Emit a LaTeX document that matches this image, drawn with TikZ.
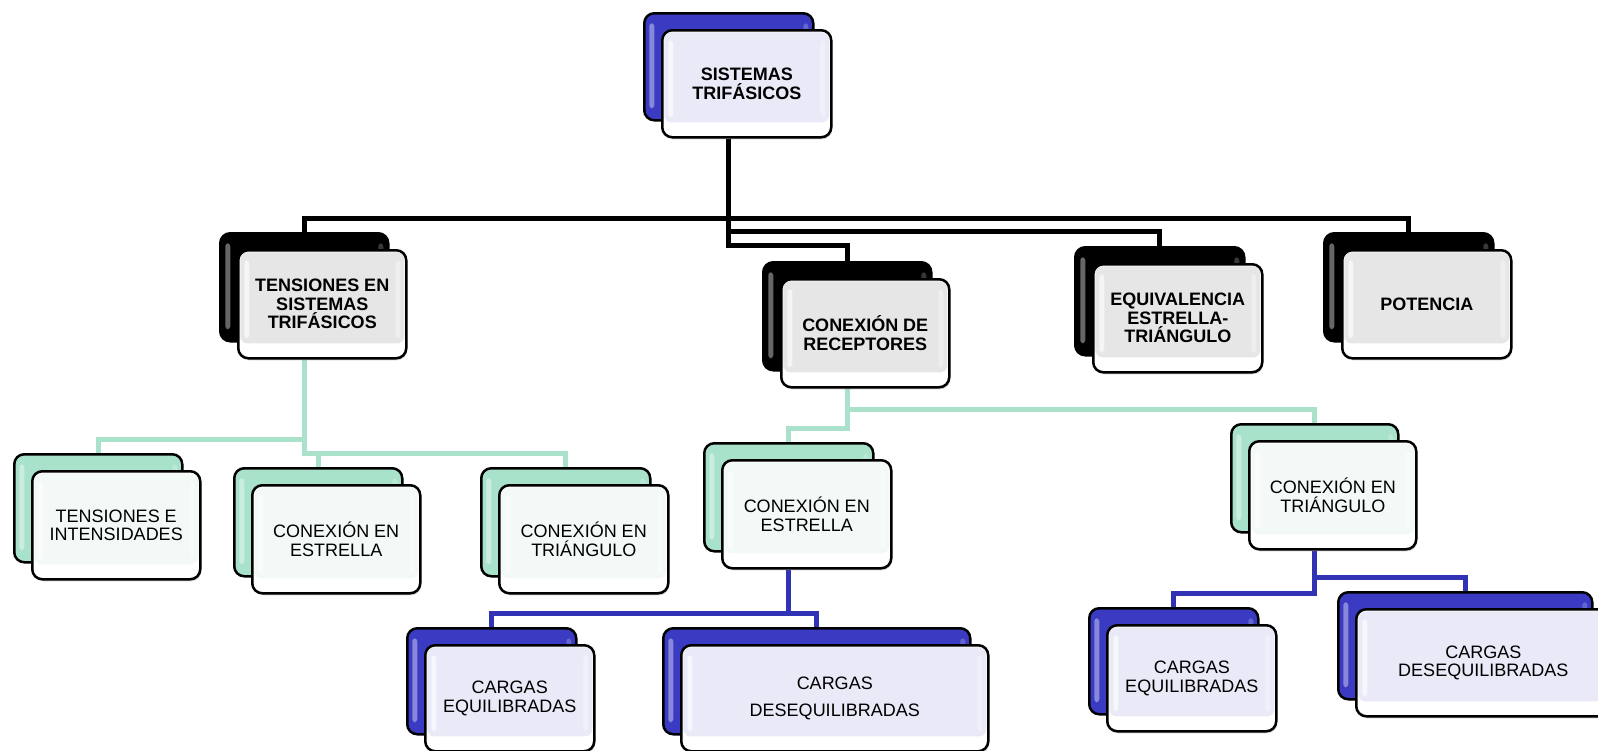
\documentclass[tikz,border=0pt]{standalone}
\usepackage{fontspec}
\setmainfont{Liberation Sans}
\usetikzlibrary{calc,shadows}
\pgfdeclarelayer{bottom}
\pgfdeclarelayer{background}
\pgfsetlayers{bottom,background,main}

\definecolor{cblue}{HTML}{3232B4}
\definecolor{bluefill}{HTML}{3A3AC2}
\definecolor{cgreen}{HTML}{A9E1CA}
\definecolor{greenfill}{HTML}{A9E2CB}
\definecolor{frontblue}{HTML}{E9E9F7}
\definecolor{frontgrey}{HTML}{E6E6E6}
\definecolor{frontgreen}{HTML}{F3F9F7}

\tikzset{
  boxbase/.style={draw=black, line width=2.5pt, rounded corners=10pt, inner sep=0pt, anchor=north west},
  backbox/.style={boxbase, fill=#1,
    path picture={
      \fill[white, opacity=0.4, rounded corners=3pt]
        ([shift={(5pt,-10pt)}]path picture bounding box.north west) rectangle
        ([shift={(10pt,12pt)}]path picture bounding box.south west);
      \fill[white, opacity=0.22, rounded corners=3pt]
        ([shift={(-10pt,-10pt)}]path picture bounding box.north east) rectangle
        ([shift={(-5pt,12pt)}]path picture bounding box.south east);
    }},
  frontbox/.style={boxbase, fill=white,
    drop shadow={shadow xshift=1pt, shadow yshift=-2pt, opacity=0.35},
    path picture={
      \fill[#1, rounded corners=7pt]
        ([shift={(2pt,-2pt)}]path picture bounding box.north west) rectangle
        ([shift={(-2pt,15pt)}]path picture bounding box.south east);
      \fill[white, opacity=0.6, rounded corners=3pt]
        ([shift={(6pt,-10pt)}]path picture bounding box.north west) rectangle
        ([shift={(11pt,20pt)}]path picture bounding box.south west);
      \fill[white, opacity=0.35, rounded corners=3pt]
        ([shift={(-11pt,-10pt)}]path picture bounding box.north east) rectangle
        ([shift={(-6pt,20pt)}]path picture bounding box.south east);
    }},
  boldtxt/.style={font=\fontsize{18pt}{18.5pt}\selectfont\bfseries, align=center},
  plaintxt/.style={font=\fontsize{18pt}{18.5pt}\selectfont, align=center},
  lvzero/.style={frontbox=frontblue, boldtxt},
  lvone/.style={frontbox=frontgrey, boldtxt},
  lvtwo/.style={frontbox=frontgreen, plaintxt},
  lvthree/.style={frontbox=frontblue, plaintxt},
  bkblue/.style={backbox=bluefill},
  bkblack/.style={backbox=black},
  bkgreen/.style={backbox=greenfill},
  conblack/.style={draw=black, line width=5pt},
  congreen/.style={draw=cgreen, line width=5pt},
  conblue/.style={draw=cblue, line width=5pt}
}

\newcommand{\twobox}[8]{%
  \node[#6, minimum width=#4pt, minimum height=#5pt] (#1-b) at (#2,#3) {};
  \node[#7, minimum width=#4pt, minimum height=#5pt, xshift=18pt, yshift=-17pt] (#1) at (#2,#3) {#8};
}
\newcommand{\linkto}[4]{%
  \draw[#1] (#2-b.center |- #2.south) |- ($(#3-b.north)+(0,-#4)$) -- (#3-b.north);
}

\begin{document}
\begin{tikzpicture}[x=1pt,y=-1pt]
\useasboundingbox (0,0) rectangle (1598,750);
\begin{pgfonlayer}{bottom}
  \fill[white] (0,0) rectangle (1598,750);
\end{pgfonlayer}

% level 0
\twobox{top}{643}{12}{169}{107}{bkblue}{lvzero}{SISTEMAS\\TRIFÁSICOS}
% level 1
\twobox{ten}{219}{232}{168}{108}{bkblack}{lvone}{TENSIONES EN\\SISTEMAS\\TRIFÁSICOS}
\twobox{con}{762}{261}{168}{108}{bkblack}{lvone}{CONEXIÓN DE\\RECEPTORES}
\twobox{equ}{1074}{246}{169}{108}{bkblack}{lvone}{EQUIVALENCIA\\ESTRELLA-\\TRIÁNGULO}
\twobox{pot}{1323}{232}{169}{108}{bkblack}{lvone}{POTENCIA}
% level 2
\twobox{tei}{13}{453}{168}{108}{bkgreen}{lvtwo}{TENSIONES E\\INTENSIDADES}
\twobox{ceA}{233}{467}{168}{108}{bkgreen}{lvtwo}{CONEXIÓN EN\\ESTRELLA}
\twobox{ctA}{480}{467}{169}{108}{bkgreen}{lvtwo}{CONEXIÓN EN\\TRIÁNGULO}
\twobox{ceB}{703}{442}{169}{108}{bkgreen}{lvtwo}{CONEXIÓN EN\\ESTRELLA}
\twobox{ctB}{1230}{423}{167}{108}{bkgreen}{lvtwo}{CONEXIÓN EN\\TRIÁNGULO}
% level 3
\twobox{eqA}{406}{627}{169}{106}{bkblue}{lvthree}{CARGAS\\EQUILIBRADAS}
\twobox{deA}{662}{627}{307}{106}{bkblue}{lvthree}{CARGAS\\[8.5pt]DESEQUILIBRADAS}
\twobox{eqB}{1088}{607}{169}{106}{bkblue}{lvthree}{CARGAS\\EQUILIBRADAS}
\twobox{deB}{1337}{591}{254}{107}{bkblue}{lvthree}{CARGAS\\DESEQUILIBRADAS}

\begin{pgfonlayer}{background}
  \linkto{conblack}{top}{ten}{14}
  \linkto{conblack}{top}{pot}{14}
  \linkto{conblack}{top}{equ}{15}
  \linkto{conblack}{top}{con}{16}
  \linkto{congreen}{ten}{tei}{14}
  \linkto{congreen}{ten}{ceA}{14}
  \linkto{congreen}{ten}{ctA}{14}
  \linkto{congreen}{con}{ctB}{14}
  \linkto{congreen}{con}{ceB}{14}
  \linkto{conblue}{ceB}{eqA}{14}
  \linkto{conblue}{ceB}{deA}{14}
  \linkto{conblue}{ctB}{deB}{14}
  \linkto{conblue}{ctB}{eqB}{14}
\end{pgfonlayer}
\end{tikzpicture}
\end{document}
